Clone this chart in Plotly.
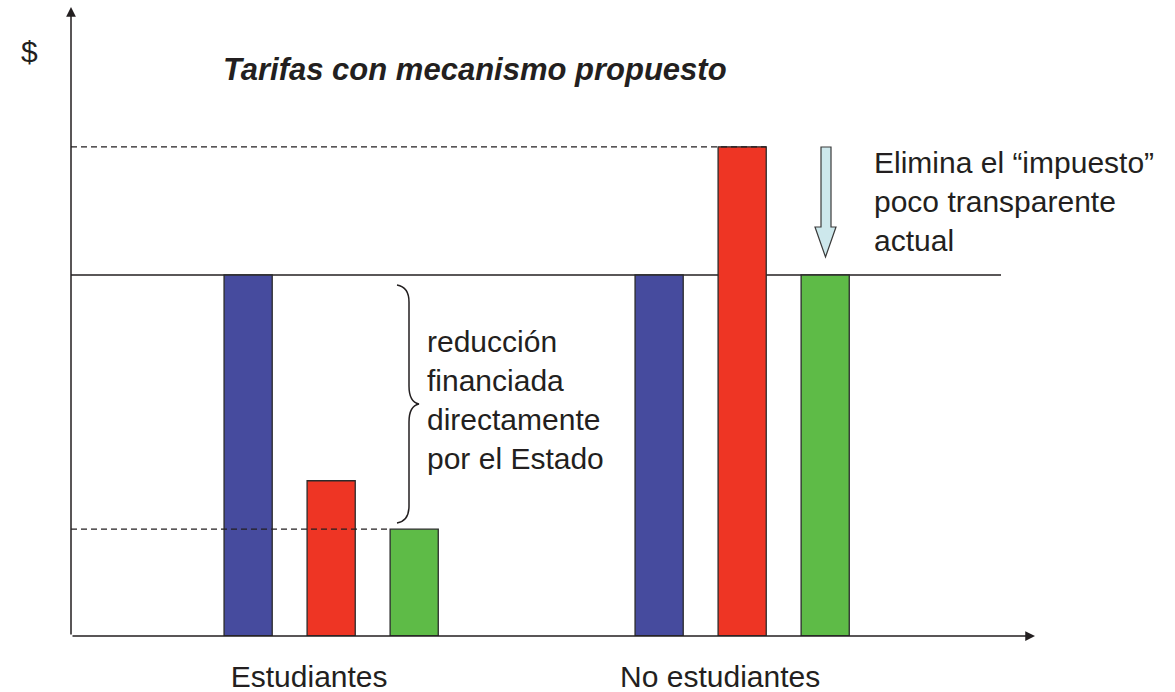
import plotly.graph_objects as go

# ---------------- data ----------------
categories = ["Estudiantes", "No estudiantes"]
tarifa_actual = [100, 100]        # azul
costo_servicio = [43, 135.5]      # rojo
tarifa_propuesta = [29.6, 100]    # verde
series_names = ["Tarifa actual", "Costo", "Tarifa con mecanismo propuesto"]
series_colors = ["#464B9E", "#EE3524", "#5EBB47"]

title_text = "Tarifas con mecanismo propuesto"
y_symbol = "$"
brace_text = "reducción<br>financiada<br>directamente<br>por el Estado"
arrow_text = "Elimina el “impuesto”<br>poco transparente<br>actual"

# ---------------- layout geometry ----------------
W, H = 1175, 692
ML, MR, MT, MB = 71, 140, 7, 56
PW, PH = W - ML - MR, H - MT - MB
PXU = 411.0            # px per category unit
PYU = 3.61             # px per value unit
XMIN = -0.633
XMAX = XMIN + PW / PXU
YMAX = PH / PYU
BARGAP, GROUPGAP = 0.394, 0.42
slot = (1 - BARGAP) / 3
bw = slot * (1 - GROUPGAP)
INK = "#231F20"
FONT = "Liberation Sans, Arial, sans-serif"


def xd(px):
    return XMIN + (px - ML) / PXU


def yd(py):
    return (H - MB - py) / PYU


def xp(px):
    return (px - ML) / PW


def yp(py):
    return (H - MB - py) / PH


positions = list(range(len(categories)))

fig = go.Figure()
for name, vals, col in zip(series_names,
                           [tarifa_actual, costo_servicio, tarifa_propuesta],
                           series_colors):
    fig.add_trace(go.Bar(x=positions, y=vals, name=name,
                         marker=dict(color=col, line=dict(color="#2b2b2b", width=1.3)),
                         hoverinfo="skip"))

shapes = []
# solid reference line at current tariff level
shapes.append(dict(type="line", xref="paper", yref="y", x0=0, x1=xp(1001),
                   y0=tarifa_actual[1], y1=tarifa_actual[1],
                   line=dict(color=INK, width=1.5), layer="below"))
# dashed line at non-student cost
shapes.append(dict(type="line", xref="x", yref="y", x0=XMIN, x1=positions[1] + bw / 2,
                   y0=max(costo_servicio), y1=max(costo_servicio),
                   line=dict(color=INK, width=1.3, dash="6px,4px"), layer="above"))
# dashed line at student proposed tariff
shapes.append(dict(type="line", xref="x", yref="y", x0=XMIN, x1=positions[0] + slot - bw / 2,
                   y0=tarifa_propuesta[0], y1=tarifa_propuesta[0],
                   line=dict(color=INK, width=1.3, dash="6px,4px"), layer="above"))

# curly brace "}"
bx_end, bx_mid, bx_tip = 397, 409, 419
by_top, by_bot = 285, 523
by_c = (by_top + by_bot) / 2
pts = [
    ("M", [(bx_end, by_top)]),
    ("Q", [(bx_mid, by_top + 2), (bx_mid, by_top + 17)]),
    ("L", [(bx_mid, by_c - 18)]),
    ("Q", [(bx_mid, by_c - 2), (bx_tip, by_c)]),
    ("Q", [(bx_mid, by_c + 2), (bx_mid, by_c + 18)]),
    ("L", [(bx_mid, by_bot - 17)]),
    ("Q", [(bx_mid, by_bot - 2), (bx_end, by_bot)]),
]
path = " ".join(cmd + " " + " ".join(f"{xd(a):.5f},{yd(b):.5f}" for a, b in p) for cmd, p in pts)
shapes.append(dict(type="path", xref="x", yref="y", path=path,
                   line=dict(color=INK, width=1.5)))

# down arrow (hollow, light blue)
apts = [(821, 147), (831, 147), (831, 227), (836, 227), (825.5, 257), (815, 227), (821, 227)]
apath = "M " + " L ".join(f"{xd(a):.5f},{yd(b):.5f}" for a, b in apts) + " Z"
shapes.append(dict(type="path", xref="x", yref="y", path=apath,
                   fillcolor="#CDE8EC", line=dict(color="#3a3a3a", width=1.2)))

annotations = []
# axis arrows
annotations.append(dict(x=XMIN, y=YMAX, ax=XMIN, ay=0, xref="x", yref="y",
                        axref="x", ayref="y", text="", showarrow=True,
                        arrowhead=2, arrowsize=1.3, arrowwidth=1.5, arrowcolor=INK))
annotations.append(dict(x=XMAX, y=0, ax=XMIN, ay=0, xref="x", yref="y",
                        axref="x", ayref="y", text="", showarrow=True,
                        arrowhead=2, arrowsize=1.3, arrowwidth=1.5, arrowcolor=INK))
annotations.append(dict(x=xp(19), y=yp(33), xref="paper", yref="paper", text=y_symbol,
                        showarrow=False, font=dict(size=30, color=INK, family=FONT)))
annotations.append(dict(x=xp(221), y=yp(69), xref="paper", yref="paper",
                        text=f"<b><i>{title_text}</i></b>", xanchor="left", yanchor="middle",
                        showarrow=False, font=dict(size=31, color=INK, family=FONT)))
annotations.append(dict(x=xp(425), y=yp(400), xref="paper", yref="paper",
                        text=brace_text, xanchor="left", yanchor="middle", align="left",
                        showarrow=False, font=dict(size=30, color=INK, family=FONT)))
annotations.append(dict(x=xp(872), y=yp(201), xref="paper", yref="paper",
                        text=arrow_text, xanchor="left", yanchor="middle", align="left",
                        showarrow=False, font=dict(size=30, color=INK, family=FONT)))

fig.update_layout(
    width=W, height=H,
    margin=dict(l=ML, r=MR, t=MT, b=MB, autoexpand=False),
    paper_bgcolor="white", plot_bgcolor="white",
    barmode="group", bargap=BARGAP, bargroupgap=GROUPGAP,
    showlegend=False,
    shapes=shapes, annotations=annotations,
    xaxis=dict(range=[XMIN, XMAX], tickvals=positions, ticktext=categories,
               showgrid=False, zeroline=False, showline=False, ticks="",
               tickfont=dict(size=30, color=INK, family=FONT), automargin=False,
               ticklabelshift=-22, ticklabelstandoff=20, fixedrange=True),
    yaxis=dict(range=[0, YMAX], showgrid=False, zeroline=False, showline=False,
               showticklabels=False, ticks="", fixedrange=True, automargin=False),
)

fig.write_html("out.html", config={"displayModeBar": False})
